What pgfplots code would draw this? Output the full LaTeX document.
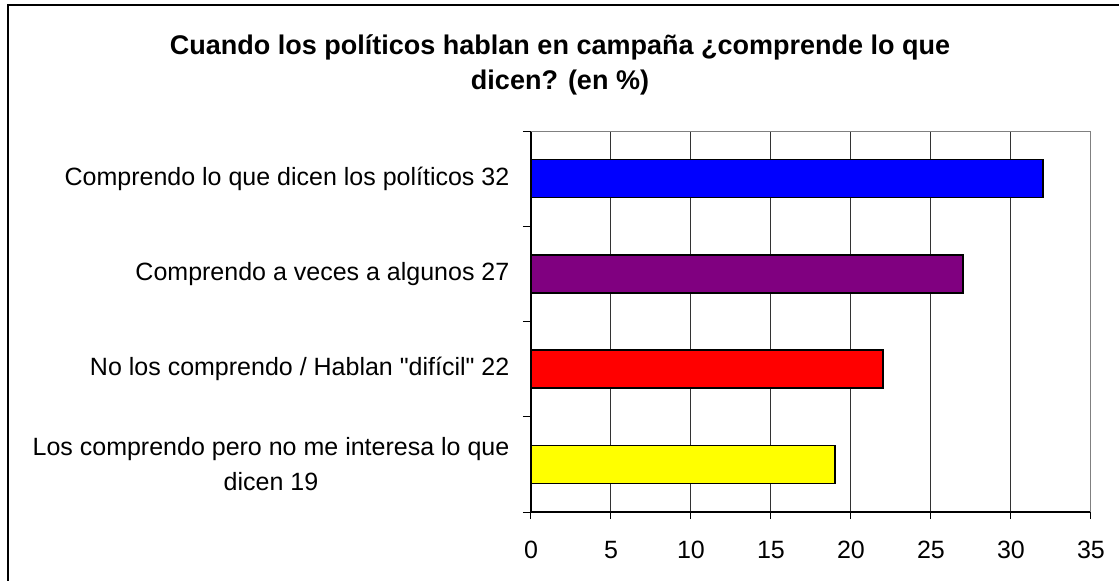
\documentclass[border=0pt]{standalone}
\usepackage{fontspec}
\setmainfont{Liberation Sans}[Ligatures=TeXOff]
\usepackage{pgfplots}
\pgfplotsset{compat=1.18}

\begin{document}
\begin{tikzpicture}
\begin{axis}[
  at={(265.5pt,34pt)}, anchor=south west,
  scale only axis, width=280pt, height=190.5pt,
  xmin=0, xmax=35, ymin=-0.5, ymax=3.5,
  xtick={0,5,...,35},
  ytick={0,1,2,3},
  yticklabels={{Los comprendo pero no me interesa lo que\\dicen 19},
               {No los comprendo / Hablan "difícil" 22},
               {Comprendo a veces a algunos 27},
               {Comprendo lo que dicen los políticos 32}},
  minor ytick={-0.5,0.5,1.5,2.5,3.5},
  axis x line*=bottom, axis y line*=left,
  axis line style={-, black, line width=0.6pt},
  tick align=outside,
  major tick length=3.5pt, minor tick length=4pt,
  major y tick style={draw=none},
  minor y tick style={black, line width=0.5pt},
  major x tick style={black, line width=0.5pt},
  xmajorgrids,
  major grid style={black!80, line width=0.5pt},
  ticklabel style={font=\fontsize{12.5}{17.5}\selectfont},
  xticklabel style={yshift=-7.5pt},
  yticklabel style={align=center, xshift=-3.8pt},
  /pgf/number format/assume math mode=true,
  xbar, bar shift=0pt, bar width=19pt,
  every axis plot/.append style={draw=black, line width=0.8pt},
]
\addplot[fill={rgb,255:red,255;green,255;blue,0}] coordinates {(19,0)};
\addplot[fill={rgb,255:red,255;green,0;blue,0}] coordinates {(22,1)};
\addplot[fill={rgb,255:red,128;green,0;blue,128}] coordinates {(27,2)};
\addplot[fill={rgb,255:red,0;green,0;blue,255}] coordinates {(32,3)};
\draw[gray, line width=0.6pt] (rel axis cs:0,1) -- (rel axis cs:1,1) -- (rel axis cs:1,0);
\end{axis}
\node[align=center, font=\bfseries\fontsize{13.5}{17.5}\selectfont] at (280pt,257.75pt)
  {Cuando los políticos hablan en campaña ¿comprende lo que\\dicen? (en \%)};
\draw[line width=1pt] (4pt,-20pt) -- (4pt,287.5pt) -- (600pt,287.5pt);
\pgfresetboundingbox
\useasboundingbox (0,0) rectangle (559.5pt,290pt);
\end{tikzpicture}
\end{document}
